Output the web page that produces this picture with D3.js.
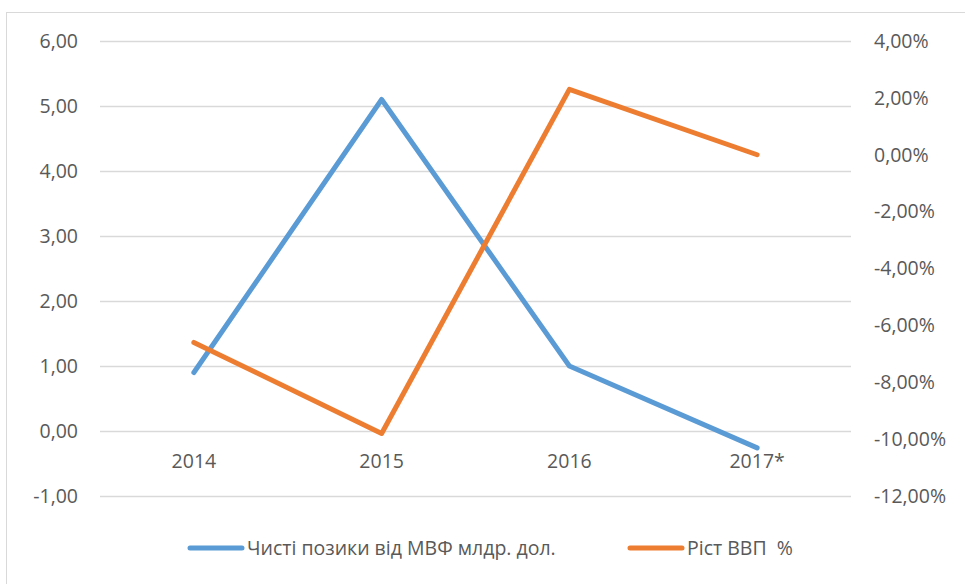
<!DOCTYPE html>
<html><head><meta charset="utf-8">
<script src="https://cdn.jsdelivr.net/npm/d3@7"></script>
<style>body{margin:0;background:#fff}svg{display:block}svg text{font-family:"Open Sans",Lato,sans-serif !important;fill:#595959}</style>
</head><body><svg id="c" width="965" height="584"></svg>
<script>
const categories = ["2014","2015","2016","2017*"];
const imfLoans = [0.9, 5.1, 1.0, -0.26];
const gdpGrowth = [-6.6, -9.8, 2.3, 0.0];
const leftTicks = [6,5,4,3,2,1,0,-1];
const rightTicks = [4,2,0,-2,-4,-6,-8,-10,-12];
const seriesNames = ["Чисті позики від МВФ млдр. дол.", "Ріст ВВП  %"];
const colors = ["#5B9BD5", "#ED7D31"];

const FS = 19.5;
const svg = d3.select("#c");
svg.append("rect").attr("x",6.5).attr("y",12.5).attr("width",1000).attr("height",1000)
  .attr("fill","none").attr("stroke","#D9D9D9");

const x = d3.scaleBand().domain(categories).range([100, 851]);
const yL = d3.scaleLinear().domain([-1, 6]).range([496, 41]);
const yR = d3.scaleLinear().domain([-12, 4]).range([496, 41]);

const grid = svg.append("g");
leftTicks.forEach(t => {
  grid.append("line").attr("x1",100).attr("x2",851).attr("y1",Math.round(yL(t))+0.5).attr("y2",Math.round(yL(t))+0.5)
    .attr("stroke","#D9D9D9").attr("stroke-width",1.5);
});

const fmt = v => v.toFixed(2).replace(".", ",");
const yAxisL = d3.axisLeft(yL).tickValues(leftTicks).tickFormat(fmt).tickSize(0).tickPadding(0);
const gL = svg.append("g").attr("transform","translate(78,0)").call(yAxisL);
gL.select(".domain").remove();
gL.attr("font-family",null).attr("font-size",FS);
gL.selectAll("text").attr("fill","#595959");

const yAxisR = d3.axisRight(yR).tickValues(rightTicks).tickFormat(v => fmt(v) + "%").tickSize(0).tickPadding(0);
const gR = svg.append("g").attr("transform","translate(874,0)").call(yAxisR);
gR.select(".domain").remove();
gR.attr("font-family",null).attr("font-size",FS);
gR.selectAll("text").attr("fill","#595959");

const xAxis = d3.axisBottom(x).tickSize(0).tickPadding(0);
const gX = svg.append("g").attr("transform","translate(0,454)").call(xAxis);
gX.select(".domain").remove();
gX.attr("font-family",null).attr("font-size",FS);
gX.selectAll("text").attr("fill","#595959").attr("dy","0.71em");

const cx = d => x(d) + x.bandwidth()/2;
const lineL = d3.line().x((d,i)=>cx(categories[i])).y(d=>yL(d));
const lineR = d3.line().x((d,i)=>cx(categories[i])).y(d=>yR(d));
svg.append("path").attr("d", lineL(imfLoans)).attr("fill","none").attr("stroke",colors[0])
  .attr("stroke-width",5).attr("stroke-linecap","round").attr("stroke-linejoin","round");
svg.append("path").attr("d", lineR(gdpGrowth)).attr("fill","none").attr("stroke",colors[1])
  .attr("stroke-width",5).attr("stroke-linecap","round").attr("stroke-linejoin","round");

const legend = [{x:190, name:seriesNames[0], c:colors[0]},{x:630, name:seriesNames[1], c:colors[1]}];
legend.forEach(l => {
  svg.append("line").attr("x1",l.x).attr("x2",l.x+52).attr("y1",548).attr("y2",548)
    .attr("stroke",l.c).attr("stroke-width",5).attr("stroke-linecap","round");
  svg.append("text").attr("x",l.x+57).attr("y",548).attr("dy","0.35em").attr("font-size",FS)
    .style("white-space","pre").text(l.name);
});
</script></body></html>
